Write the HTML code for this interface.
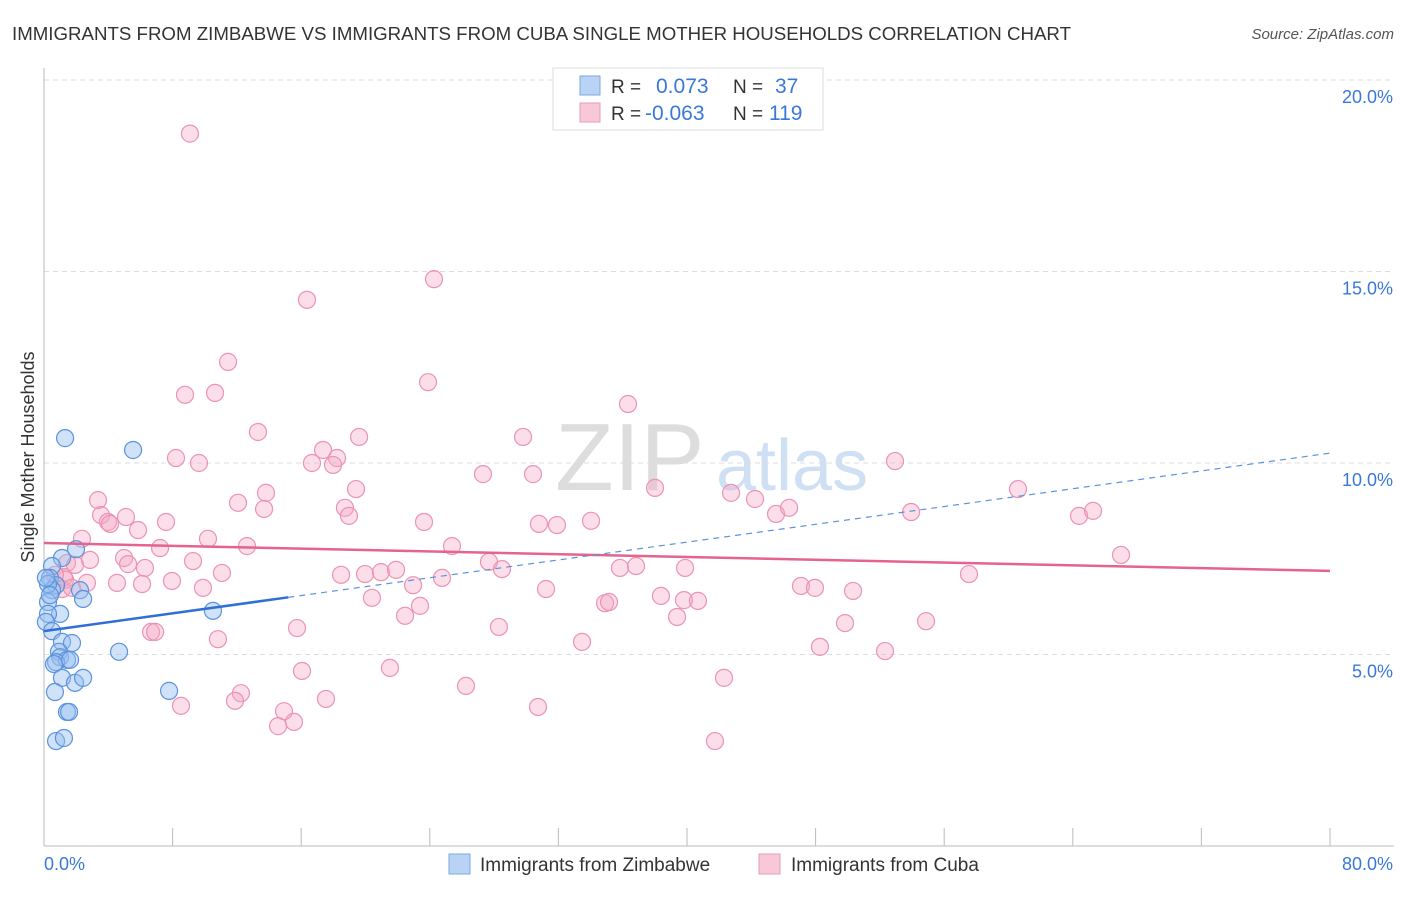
<!DOCTYPE html>
<html><head><meta charset="utf-8">
<style>
body{margin:0;background:#fff;font-family:"Liberation Sans",Arial,sans-serif;}
svg text{font-family:"Liberation Sans",Arial,sans-serif;}
</style></head>
<body>
<svg id="chart" width="1406" height="892" viewBox="0 0 1406 892" xmlns="http://www.w3.org/2000/svg">
<text x="12" y="40" font-size="18.6" fill="#333" textLength="1059" lengthAdjust="spacingAndGlyphs">IMMIGRANTS FROM ZIMBABWE VS IMMIGRANTS FROM CUBA SINGLE MOTHER HOUSEHOLDS CORRELATION CHART</text>
<text x="1394" y="39" font-size="15" fill="#555" font-style="italic" text-anchor="end">Source: ZipAtlas.com</text>
<text transform="translate(34,457) rotate(-90)" font-size="18" fill="#333" text-anchor="middle">Single Mother Households</text>
<g>
<text x="555" y="490" font-size="96" fill="#ddd" font-family="Liberation Serif">ZIP</text>
<text x="716" y="490" font-size="72" fill="#cfe0f4">atlas</text>
</g>
<g id="grid"></g>
<g id="axes"></g>
<g id="marks"></g>
<g>
<rect x="553" y="68" width="270" height="62" fill="#fff" stroke="#ddd"/>
<rect x="580" y="76" width="20" height="19" fill="#b9d3f5" stroke="#7aa7e3"/>
<text x="611" y="93" font-size="19" fill="#333">R =</text>
<text x="656" y="93" font-size="21" fill="#3a78d8">0.073</text>
<text x="733" y="93" font-size="19" fill="#333">N =</text>
<text x="775" y="93" font-size="21" fill="#3a78d8">37</text>
<rect x="580" y="103" width="20" height="19" fill="#f8c8d7" stroke="#e99bb5"/>
<text x="611" y="120" font-size="19" fill="#333">R =</text>
<text x="645" y="120" font-size="21" fill="#3a78d8">-0.063</text>
<text x="733" y="120" font-size="19" fill="#333">N =</text>
<text x="769" y="120" font-size="21" fill="#3a78d8">119</text>
</g>
<g>
<rect x="449" y="854" width="21" height="20" fill="#b9d3f5" stroke="#7aa7e3"/>
<text x="480" y="871" font-size="19" fill="#333">Immigrants from Zimbabwe</text>
<rect x="759" y="854" width="21" height="20" fill="#f8c8d7" stroke="#e99bb5"/>
<text x="791" y="871" font-size="19" fill="#333">Immigrants from Cuba</text>
</g>
</svg>
<script>
const yTicks=[5,10,15,20];
const yTickLabels=["5.0%","10.0%","15.0%","20.0%"];
const xTicks=[0,8,16,24,32,40,48,56,64,72,80];
const xEndLabels=["0.0%","80.0%"];
const zimX=[1.31,5.54,1.99,1.12,0.5,0.37,0.75,2.24,2.43,0.5,0.25,1.0,0.25,10.51,0.12,0.5,1.12,1.74,0.93,1.0,1.43,0.75,0.62,4.67,1.12,1.93,2.43,0.68,7.78,1.43,1.56,0.75,1.24,0.25,0.12,0.37,1.62];
const zimY=[10.65,10.34,7.75,7.52,7.31,7.0,6.81,6.68,6.45,6.68,6.37,6.06,6.06,6.14,5.85,5.61,5.33,5.30,5.07,4.93,4.86,4.80,4.75,5.07,4.39,4.26,4.39,4.02,4.05,3.50,3.50,2.74,2.82,6.84,7.0,6.55,4.86];
const cubaX=[9.08,24.26,16.36,11.45,23.89,8.77,10.64,36.33,13.31,19.6,29.8,17.36,18.23,8.21,9.64,16.67,17.98,52.94,27.31,30.42,3.36,12.07,13.81,19.41,38.01,42.74,44.23,60.59,18.72,18.97,13.69,3.55,3.98,5.10,4.11,5.85,7.59,23.64,30.79,31.91,34.03,45.54,46.35,53.94,64.39,65.26,2.36,10.2,12.63,7.22,25.38,4.98,9.27,67.0,27.68,28.49,1.43,1.93,6.28,5.23,11.07,18.48,19.97,20.96,21.9,24.76,35.83,36.83,39.88,57.54,2.67,4.54,6.1,7.96,9.89,22.96,31.23,47.09,47.96,50.33,1.31,1.12,20.4,38.38,23.39,34.9,35.15,39.81,40.68,22.46,39.38,49.83,54.87,6.66,6.91,10.82,15.74,28.3,33.47,48.27,52.32,16.05,21.52,26.25,42.3,12.25,11.88,8.52,17.54,30.73,14.93,14.56,15.55,41.74,1.24,0.68,1.74,2.86];
const cubaY=[18.6,14.8,14.26,12.64,12.11,11.78,11.83,11.54,10.81,10.68,10.68,10.34,10.13,10.13,10.0,10.0,9.95,10.05,9.71,9.71,9.03,8.96,9.22,9.32,9.35,9.22,9.06,9.32,8.83,8.62,8.80,8.64,8.46,8.59,8.41,8.25,8.46,8.46,8.41,8.38,8.49,8.67,8.83,8.72,8.62,8.75,8.02,8.02,7.83,7.78,7.83,7.52,7.44,7.60,7.42,7.23,7.39,7.34,7.26,7.36,7.13,7.08,7.10,7.15,7.21,7.0,7.26,7.31,7.26,7.10,6.87,6.87,6.84,6.92,6.74,6.81,6.71,6.79,6.74,6.66,6.95,6.71,6.48,6.53,6.27,6.34,6.37,6.42,6.40,6.01,5.98,5.82,5.87,5.59,5.59,5.40,5.69,5.72,5.33,5.20,5.09,4.57,4.65,4.18,4.39,3.99,3.79,3.66,3.84,3.63,3.52,3.13,3.24,2.74,7.02,7.08,6.74,7.47];
const zimTrend=[5.61,0.0581];   // intercept, slope
const zimSolidEnd=15.2;
const cubaTrend=[7.91,-0.0091];

const NS="http://www.w3.org/2000/svg";
const X=v=>44+v*16.075;
const Y=v=>846-v*38.3;
function mk(tag,attrs,parent){const e=document.createElementNS(NS,tag);for(const k in attrs)e.setAttribute(k,attrs[k]);parent.appendChild(e);return e;}
const grid=document.getElementById('grid'),axes=document.getElementById('axes'),marks=document.getElementById('marks');
yTicks.forEach((t,i)=>{
  const l=mk('line',{x1:44,x2:1394,y1:Y(t),y2:Y(t),stroke:'#ddd','stroke-dasharray':'5,4'},grid);
  
  
  const tx=mk('text',{x:1393,y:Y(t)+23,'font-size':18,fill:'#3a78d8','text-anchor':'end'},axes);
  tx.textContent=yTickLabels[i];
  
  
});
const ya=mk('line',{x1:44,x2:44,y1:68,y2:846,stroke:'#bbb'},axes);


const xa=mk('line',{x1:44,x2:1394,y1:846,y2:846,stroke:'#bbb'},axes);


xTicks.forEach(t=>{
  const l=mk('line',{x1:X(t),x2:X(t),y1:828,y2:846,stroke:'#bbb'},axes);
  
  
});
const xl0=mk('text',{x:44,y:870,'font-size':18,fill:'#3a78d8'},axes);
xl0.textContent=xEndLabels[0];


const xl1=mk('text',{x:1393,y:870,'font-size':18,fill:'#3a78d8','text-anchor':'end'},axes);
xl1.textContent=xEndLabels[1];



cubaX.forEach((x,i)=>{
  const c=mk('circle',{cx:X(x),cy:Y(cubaY[i]),r:8.5,fill:'rgba(244,168,196,0.38)',stroke:'#eb93b2','stroke-width':1.2},marks);
  
  
});
zimX.forEach((x,i)=>{
  const c=mk('circle',{cx:X(x),cy:Y(zimY[i]),r:8.5,fill:'rgba(150,190,240,0.45)',stroke:'#5b93dd','stroke-width':1.2},marks);
  
  
});
const ct=mk('line',{x1:X(0),y1:Y(cubaTrend[0]),x2:X(80),y2:Y(cubaTrend[0]+cubaTrend[1]*80),stroke:'#e4638f','stroke-width':2.5},marks);


const zt=mk('line',{x1:X(0),y1:Y(zimTrend[0]),x2:X(zimSolidEnd),y2:Y(zimTrend[0]+zimTrend[1]*zimSolidEnd),stroke:'#2f6fd6','stroke-width':2.5},marks);


const zd=mk('line',{x1:X(zimSolidEnd),y1:Y(zimTrend[0]+zimTrend[1]*zimSolidEnd),x2:X(80),y2:Y(zimTrend[0]+zimTrend[1]*80),stroke:'#5b93dd','stroke-width':1.2,'stroke-dasharray':'6,5'},marks);


</script>
</body></html>
